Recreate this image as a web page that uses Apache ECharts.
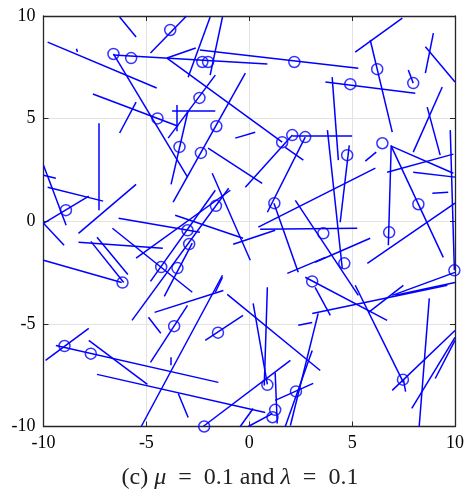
<!DOCTYPE html>
<html>
<head>
<meta charset="utf-8">
<script src="https://cdn.jsdelivr.net/npm/echarts@6/dist/echarts.min.js"></script>
<style>
html,body{margin:0;padding:0;background:#fff}
#main{width:467px;height:500px}
</style>
</head>
<body>
<div id="main"></div>
<script>
// axis range and ticks
var axisMin = -10, axisMax = 10, tickStep = 5;

// line segments [x1, y1, x2, y2]
var segments = [
  [-6.3,9.95,-5.5,8.98],
  [-9.8,8.73,-4.5,6.49],
  [-8.4,8.4,-8.35,8.25],
  [-6.6,8.1,0.88,7.66],
  [-6.6,8.15,-3.0,2.15],
  [-3.05,10.0,-4.8,8.2],
  [-7.6,6.2,-3.45,4.63],
  [-6.3,4.3,-5.5,5.8],
  [-7.3,4.78,-7.3,0.54],
  [-3.75,5.37,-1.65,5.37],
  [-3.5,5.66,-3.5,4.39],
  [-1.9,9.95,-2.97,7.02],
  [-1.3,9.95,-1.9,7.12],
  [-2.4,8.34,5.3,7.46],
  [-4.0,7.95,-2.6,8.44],
  [-4.0,7.95,1.6,3.85],
  [-1.65,7.12,-3.94,4.05],
  [-0.19,7.22,-3.7,0.93],
  [-0.68,4.05,0.29,4.34],
  [2.1,4.15,5.0,4.15],
  [7.44,9.9,5.15,8.24],
  [5.88,8.83,6.95,4.34],
  [3.7,6.78,8.07,6.24],
  [7.73,7.37,7.97,6.73],
  [8.95,9.17,8.56,7.22],
  [8.56,8.5,10,6.78],
  [9.38,6.54,7.97,3.37],
  [8.65,5.56,9.28,3.22],
  [4.03,7.02,4.33,2.98],
  [3.8,4.44,4.52,-2.29],
  [9.77,4.44,9.97,-2.39],
  [4.86,3.7,4.42,-0.05],
  [0.53,-0.39,5.25,-0.34],
  [5.64,2.93,6.17,3.37],
  [6.9,3.7,6.76,-1.17],
  [6.9,3.66,9.43,-1.76],
  [6.9,3.66,9.92,2.34],
  [6.7,2.39,9.92,3.27],
  [7.97,2.39,10,2.15],
  [8.9,1.37,9.67,1.41],
  [0.44,-0.29,6.13,2.59],
  [5.74,-2.05,10,0.88],
  [3.2,-2.0,5.88,-0.83],
  [2.24,1.02,5.3,-3.61],
  [6.95,-3.61,10,-2.49],
  [7.1,-3.61,10,-2.98],
  [-10,2.73,-8.9,-0.2],
  [-10,2.24,-9.4,2.1],
  [-9.8,1.66,-7.1,0.98],
  [-10,-0.1,-7.8,1.22],
  [-10,-0.1,-9.0,-1.17],
  [-8.3,-0.59,-5.5,1.8],
  [-6.35,0.15,-2.4,-0.54],
  [-8.3,-1.02,-4.2,-1.32],
  [-7.7,-0.98,-6.1,-2.98],
  [-7.4,-0.78,-5.9,-2.59],
  [-6.65,-0.34,-2.77,-3.46],
  [-5.5,-1.8,-0.92,1.51],
  [-10,-1.9,-6.2,-2.98],
  [-5.7,-4.83,-1.0,1.61],
  [-1.65,1.51,-4.8,-2.93],
  [-2.77,-1.07,-4.13,-3.66],
  [-4.9,-4.68,-4.3,-5.46],
  [-4.6,-4.44,-1.26,-3.37],
  [-4.8,-6.88,-3.0,-4.1],
  [-7.8,-5.22,-9.9,-6.78],
  [-9.4,-6.05,-1.5,-7.85],
  [-7.8,-5.8,-4.95,-7.95],
  [-7.4,-7.46,0.78,-9.32],
  [-3.8,-6.63,-3.8,-7.02],
  [-1.3,-2.63,-5.25,-10],
  [-3.45,-8.39,-2.97,-9.56],
  [-1.07,-3.56,3.45,-7.27],
  [-2.14,-5.8,-0.3,-4.59],
  [0.19,-4.0,0.88,-7.95],
  [0.88,-3.22,0.73,-8.0],
  [-2.24,-10,2.0,-6.78],
  [1.26,-7.37,1.36,-9.85],
  [1.26,-8.73,3.11,-7.9],
  [1.75,-10,3.06,-6.3],
  [2.0,-9.95,3.35,-4.49],
  [3.06,-4.49,9.63,-3.12],
  [2.38,-5.07,3.06,-4.93],
  [0.19,-9.12,-0.44,-10],
  [-0.05,-10,1.12,-9.37],
  [2.72,-2.73,6.7,-4.83],
  [3.2,-3.22,3.94,-4.59],
  [7.49,-3.12,5.8,-4.44],
  [5.15,-3.12,7.49,-7.85],
  [6.95,-8.24,10,-5.32],
  [7.49,-7.7,7.6,-8.3],
  [8.75,-3.76,8.26,-10],
  [7.9,-9.12,10,-5.66],
  [9.04,-7.66,10,-5.8],
  [-2.0,3.56,0.63,1.85],
  [-0.19,1.66,2.1,4.2],
  [2.72,4.1,0.88,0.44],
  [1.75,3.6,2.63,2.98],
  [1.2,0.88,2.38,-2.49],
  [-1.8,2.34,0.05,-1.9],
  [-3.6,0.29,-0.3,-0.83],
  [-0.78,-1.12,1.26,-0.44],
  [1.85,-2.54,3.7,-1.76],
  [-1.65,-3.46,-1.3,-2.73],
  [-2.97,5.41,-3.8,1.8]
];

// circle markers [x, y]
var circles = [
  [-6.6,8.15],[-5.74,7.95],[-3.84,9.32],[-2.28,7.76],[-2.0,7.76],[2.19,7.76],
  [-2.42,6.01],[-4.46,5.01],[-1.6,4.63],[-3.39,3.62],[-2.35,3.33],
  [1.6,3.85],[2.09,4.2],[2.72,4.1],[6.22,7.41],[4.91,6.68],[7.97,6.73],
  [4.76,3.22],[6.47,3.8],[1.22,0.88],[-1.62,0.75],[-3.0,-0.44],[-2.92,-1.11],
  [-4.28,-2.23],[-3.49,-2.28],[-8.91,0.54],[-6.16,-2.99],[3.6,-0.59],
  [6.8,-0.54],[8.22,0.83],[4.62,-2.05],[9.97,-2.39],[3.06,-2.93],
  [-3.65,-5.11],[-1.52,-5.43],[-8.98,-6.08],[-7.7,-6.45],[-2.19,-10.0],
  [0.88,-7.97],[1.26,-9.19],[1.13,-9.55],[2.27,-8.29],[7.47,-7.72]
];

var blue = '#0000ff';
var axisColor = '#262626';
var labelFont = '"Liberation Serif", "DejaVu Serif", serif';

function mainAxis(pos, showLabel) {
  return {
    type: 'value', position: pos, min: axisMin, max: axisMax, interval: tickStep,
    axisLine: { show: true, onZero: false, lineStyle: { color: axisColor, width: 1.3 } },
    axisTick: { show: true, inside: true, length: 5, lineStyle: { color: axisColor, width: 1 } },
    axisLabel: { show: showLabel, color: '#000', fontFamily: labelFont, fontSize: 18, margin: 8,
      formatter: function (v) { return String(v); } },
    splitLine: { show: showLabel, lineStyle: { color: '#e3e3e3', width: 1 } }
  };
}

var chart = echarts.init(document.getElementById('main'), null, { renderer: 'canvas' });
chart.setOption({
  animation: false,
  backgroundColor: '#fff',
  grid: { left: 43.5, right: 12, top: 16, bottom: 73.5, containLabel: false },
  xAxis: [mainAxis('bottom', true), mainAxis('top', false)],
  yAxis: [mainAxis('left', true), mainAxis('right', false)],
  title: {
    text: '(c) {i|μ}  =  0.1 and {i|λ}  =  0.1',
    left: 235, top: 461, textAlign: 'center',
    textStyle: {
      fontFamily: labelFont, fontSize: 24, fontWeight: 'normal', color: '#222',
      rich: { i: { fontFamily: labelFont, fontSize: 24, fontStyle: 'italic', color: '#222' } }
    }
  },
  series: [
    {
      type: 'lines',
      coordinateSystem: 'cartesian2d',
      xAxisIndex: 0, yAxisIndex: 0,
      silent: true,
      lineStyle: { color: blue, width: 1.5, opacity: 1 },
      data: segments.map(function (s) { return { coords: [[s[0], s[1]], [s[2], s[3]]] }; })
    },
    {
      type: 'scatter',
      xAxisIndex: 0, yAxisIndex: 0,
      symbol: 'circle', symbolSize: 11,
      itemStyle: { color: 'rgba(0,0,0,0)', borderColor: blue, borderWidth: 1.5 },
      data: circles
    }
  ]
});
</script>
</body>
</html>
